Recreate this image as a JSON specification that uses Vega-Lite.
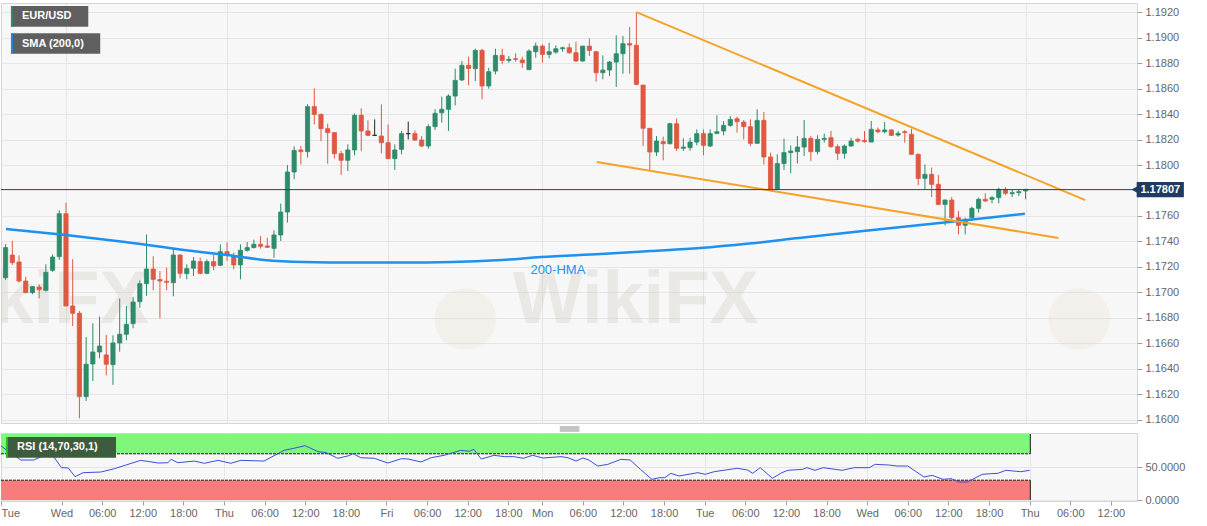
{
  "$schema": "https://vega.github.io/schema/vega-lite/v6.json",
  "padding": {"left": 0, "top": 2, "right": 0, "bottom": 0},
  "background": "#ffffff",
  "bounds": "flush",
  "spacing": 10,
  "config": {
    "font": "Liberation Sans",
    "view": {"fill": "#f7f7f7", "stroke": "#d6d6d6"},
    "axis": {"labelFont": "Liberation Sans", "labelFontSize": 11, "labelColor": "#666666", "tickColor": "#a0a0a0", "gridColor": "#e5e5e5", "domain": false, "minExtent": 0, "labelOverlap": false, "labelSeparation": 0}
  },
  "datasets": {
    "candles": [
      {"i": -9, "o": 1.17116, "h": 1.1738, "l": 1.171, "c": 1.17352},
      {"i": -8, "o": 1.17294, "h": 1.17404, "l": 1.17216, "c": 1.17234},
      {"i": -7, "o": 1.17239, "h": 1.17291, "l": 1.17077, "c": 1.1709},
      {"i": -6, "o": 1.1709, "h": 1.17122, "l": 1.16993, "c": 1.16999},
      {"i": -5, "o": 1.16999, "h": 1.17051, "l": 1.16986, "c": 1.17046},
      {"i": -4, "o": 1.17043, "h": 1.17064, "l": 1.16954, "c": 1.17022},
      {"i": -3, "o": 1.17017, "h": 1.17221, "l": 1.17007, "c": 1.17158},
      {"i": -2, "o": 1.17174, "h": 1.17299, "l": 1.17163, "c": 1.17278},
      {"i": -1, "o": 1.17281, "h": 1.17645, "l": 1.17255, "c": 1.17618},
      {"i": 0, "o": 1.17618, "h": 1.17704, "l": 1.16894, "c": 1.16894},
      {"i": 1, "o": 1.16894, "h": 1.1726, "l": 1.16737, "c": 1.16837},
      {"i": 2, "o": 1.16837, "h": 1.16855, "l": 1.16013, "c": 1.16183},
      {"i": 3, "o": 1.16183, "h": 1.16651, "l": 1.16149, "c": 1.16437},
      {"i": 4, "o": 1.16439, "h": 1.16758, "l": 1.16306, "c": 1.16533},
      {"i": 5, "o": 1.16533, "h": 1.16811, "l": 1.16484, "c": 1.1658},
      {"i": 6, "o": 1.1651, "h": 1.16667, "l": 1.1635, "c": 1.16437},
      {"i": 7, "o": 1.16434, "h": 1.16664, "l": 1.16275, "c": 1.16604},
      {"i": 8, "o": 1.16604, "h": 1.16954, "l": 1.16536, "c": 1.16672},
      {"i": 9, "o": 1.16672, "h": 1.16894, "l": 1.16625, "c": 1.1675},
      {"i": 10, "o": 1.16756, "h": 1.16965, "l": 1.16719, "c": 1.16925},
      {"i": 11, "o": 1.16928, "h": 1.17095, "l": 1.16881, "c": 1.17069},
      {"i": 12, "o": 1.17069, "h": 1.17456, "l": 1.16973, "c": 1.17184},
      {"i": 13, "o": 1.17184, "h": 1.17284, "l": 1.17017, "c": 1.17103},
      {"i": 14, "o": 1.17101, "h": 1.17169, "l": 1.16797, "c": 1.1709},
      {"i": 15, "o": 1.17088, "h": 1.17195, "l": 1.17017, "c": 1.1708},
      {"i": 16, "o": 1.17077, "h": 1.17339, "l": 1.1697, "c": 1.17294},
      {"i": 17, "o": 1.17294, "h": 1.17299, "l": 1.17111, "c": 1.1715},
      {"i": 18, "o": 1.17148, "h": 1.17221, "l": 1.17103, "c": 1.17187},
      {"i": 19, "o": 1.1719, "h": 1.17278, "l": 1.17129, "c": 1.17247},
      {"i": 20, "o": 1.17242, "h": 1.17273, "l": 1.17143, "c": 1.1715},
      {"i": 21, "o": 1.1715, "h": 1.1726, "l": 1.17143, "c": 1.17242},
      {"i": 22, "o": 1.17242, "h": 1.17294, "l": 1.17174, "c": 1.17208},
      {"i": 23, "o": 1.17213, "h": 1.17378, "l": 1.17208, "c": 1.1732},
      {"i": 24, "o": 1.1732, "h": 1.17393, "l": 1.17247, "c": 1.17294},
      {"i": 25, "o": 1.17286, "h": 1.17312, "l": 1.17182, "c": 1.17216},
      {"i": 26, "o": 1.17216, "h": 1.17378, "l": 1.17103, "c": 1.17331},
      {"i": 27, "o": 1.17331, "h": 1.17396, "l": 1.1732, "c": 1.17352},
      {"i": 28, "o": 1.17352, "h": 1.17414, "l": 1.17346, "c": 1.17378},
      {"i": 29, "o": 1.17378, "h": 1.17443, "l": 1.17344, "c": 1.17362},
      {"i": 30, "o": 1.17365, "h": 1.1743, "l": 1.17352, "c": 1.17354},
      {"i": 31, "o": 1.17346, "h": 1.17488, "l": 1.17273, "c": 1.17451},
      {"i": 32, "o": 1.17451, "h": 1.17697, "l": 1.17404, "c": 1.17631},
      {"i": 33, "o": 1.17631, "h": 1.18, "l": 1.17548, "c": 1.17945},
      {"i": 34, "o": 1.17945, "h": 1.18146, "l": 1.17888, "c": 1.18115},
      {"i": 35, "o": 1.18118, "h": 1.18149, "l": 1.18005, "c": 1.18105},
      {"i": 36, "o": 1.18105, "h": 1.18476, "l": 1.18058, "c": 1.18458},
      {"i": 37, "o": 1.18458, "h": 1.18601, "l": 1.18319, "c": 1.18397},
      {"i": 38, "o": 1.18397, "h": 1.18403, "l": 1.18188, "c": 1.18285},
      {"i": 39, "o": 1.18285, "h": 1.18324, "l": 1.1801, "c": 1.18254},
      {"i": 40, "o": 1.18254, "h": 1.18254, "l": 1.18052, "c": 1.18089},
      {"i": 41, "o": 1.18089, "h": 1.1811, "l": 1.17922, "c": 1.18037},
      {"i": 42, "o": 1.18037, "h": 1.18162, "l": 1.17953, "c": 1.18118},
      {"i": 43, "o": 1.18118, "h": 1.18405, "l": 1.18076, "c": 1.1839},
      {"i": 44, "o": 1.1839, "h": 1.18444, "l": 1.1811, "c": 1.18267},
      {"i": 45, "o": 1.18267, "h": 1.1835, "l": 1.18227, "c": 1.18233},
      {"i": 46, "o": 1.18233, "h": 1.18358, "l": 1.18227, "c": 1.18233},
      {"i": 47, "o": 1.18227, "h": 1.18476, "l": 1.18092, "c": 1.18175},
      {"i": 48, "o": 1.18175, "h": 1.18319, "l": 1.1805, "c": 1.1805},
      {"i": 49, "o": 1.1805, "h": 1.18162, "l": 1.17961, "c": 1.18118},
      {"i": 50, "o": 1.18123, "h": 1.18267, "l": 1.18084, "c": 1.18246},
      {"i": 51, "o": 1.18246, "h": 1.1834, "l": 1.18201, "c": 1.18246},
      {"i": 52, "o": 1.18246, "h": 1.18272, "l": 1.18188, "c": 1.18196},
      {"i": 53, "o": 1.18196, "h": 1.18227, "l": 1.18141, "c": 1.18149},
      {"i": 54, "o": 1.18149, "h": 1.18319, "l": 1.18128, "c": 1.18301},
      {"i": 55, "o": 1.18301, "h": 1.18437, "l": 1.18275, "c": 1.18405},
      {"i": 56, "o": 1.1841, "h": 1.18536, "l": 1.18332, "c": 1.18437},
      {"i": 57, "o": 1.18437, "h": 1.18554, "l": 1.18267, "c": 1.18541},
      {"i": 58, "o": 1.18541, "h": 1.18756, "l": 1.18468, "c": 1.18664},
      {"i": 59, "o": 1.18667, "h": 1.18816, "l": 1.18659, "c": 1.18782},
      {"i": 60, "o": 1.18782, "h": 1.1885, "l": 1.18625, "c": 1.18758},
      {"i": 61, "o": 1.18756, "h": 1.18912, "l": 1.18659, "c": 1.18899},
      {"i": 62, "o": 1.18899, "h": 1.18912, "l": 1.18515, "c": 1.1862},
      {"i": 63, "o": 1.1862, "h": 1.18763, "l": 1.18599, "c": 1.18732},
      {"i": 64, "o": 1.18737, "h": 1.18912, "l": 1.18711, "c": 1.1886},
      {"i": 65, "o": 1.1886, "h": 1.18912, "l": 1.1879, "c": 1.18821},
      {"i": 66, "o": 1.18821, "h": 1.18855, "l": 1.18803, "c": 1.18829},
      {"i": 67, "o": 1.18834, "h": 1.18876, "l": 1.1881, "c": 1.18829},
      {"i": 68, "o": 1.18824, "h": 1.1885, "l": 1.18763, "c": 1.18803},
      {"i": 69, "o": 1.18748, "h": 1.18907, "l": 1.18745, "c": 1.18894},
      {"i": 70, "o": 1.18889, "h": 1.1896, "l": 1.18842, "c": 1.18933},
      {"i": 71, "o": 1.18933, "h": 1.18946, "l": 1.18803, "c": 1.18868},
      {"i": 72, "o": 1.18868, "h": 1.1896, "l": 1.18837, "c": 1.18889},
      {"i": 73, "o": 1.18886, "h": 1.18939, "l": 1.18873, "c": 1.18912},
      {"i": 74, "o": 1.18912, "h": 1.18928, "l": 1.18889, "c": 1.1892},
      {"i": 75, "o": 1.1892, "h": 1.18954, "l": 1.18873, "c": 1.18881},
      {"i": 76, "o": 1.18881, "h": 1.18967, "l": 1.18808, "c": 1.18816},
      {"i": 77, "o": 1.18816, "h": 1.18933, "l": 1.1881, "c": 1.18933},
      {"i": 78, "o": 1.18933, "h": 1.18993, "l": 1.18855, "c": 1.18899},
      {"i": 79, "o": 1.18889, "h": 1.18894, "l": 1.18654, "c": 1.18724},
      {"i": 80, "o": 1.18724, "h": 1.1886, "l": 1.18672, "c": 1.18745},
      {"i": 81, "o": 1.18745, "h": 1.18816, "l": 1.18698, "c": 1.18808},
      {"i": 82, "o": 1.18808, "h": 1.19017, "l": 1.18612, "c": 1.18873},
      {"i": 83, "o": 1.18873, "h": 1.19012, "l": 1.18716, "c": 1.18952},
      {"i": 84, "o": 1.18952, "h": 1.19082, "l": 1.18716, "c": 1.18941},
      {"i": 85, "o": 1.18939, "h": 1.192, "l": 1.18625, "c": 1.18633},
      {"i": 86, "o": 1.18627, "h": 1.18627, "l": 1.18149, "c": 1.18288},
      {"i": 87, "o": 1.18288, "h": 1.18288, "l": 1.17958, "c": 1.18102},
      {"i": 88, "o": 1.18102, "h": 1.18227, "l": 1.18071, "c": 1.18188},
      {"i": 89, "o": 1.18183, "h": 1.18222, "l": 1.18037, "c": 1.18167},
      {"i": 90, "o": 1.18167, "h": 1.18332, "l": 1.18162, "c": 1.18324},
      {"i": 91, "o": 1.18324, "h": 1.18366, "l": 1.1811, "c": 1.18131},
      {"i": 92, "o": 1.18131, "h": 1.18209, "l": 1.1811, "c": 1.18141},
      {"i": 93, "o": 1.18136, "h": 1.18214, "l": 1.1811, "c": 1.1818},
      {"i": 94, "o": 1.1818, "h": 1.1828, "l": 1.18154, "c": 1.18246},
      {"i": 95, "o": 1.18246, "h": 1.1828, "l": 1.18076, "c": 1.18154},
      {"i": 96, "o": 1.18149, "h": 1.1828, "l": 1.18141, "c": 1.18246},
      {"i": 97, "o": 1.18248, "h": 1.1839, "l": 1.18241, "c": 1.18261},
      {"i": 98, "o": 1.18267, "h": 1.18345, "l": 1.18233, "c": 1.18311},
      {"i": 99, "o": 1.18311, "h": 1.18384, "l": 1.18301, "c": 1.18358},
      {"i": 100, "o": 1.18363, "h": 1.18379, "l": 1.18254, "c": 1.1834},
      {"i": 101, "o": 1.18337, "h": 1.18353, "l": 1.18201, "c": 1.18301},
      {"i": 102, "o": 1.18301, "h": 1.18358, "l": 1.18149, "c": 1.1817},
      {"i": 103, "o": 1.1817, "h": 1.18437, "l": 1.1817, "c": 1.1835},
      {"i": 104, "o": 1.1835, "h": 1.18416, "l": 1.18005, "c": 1.18063},
      {"i": 105, "o": 1.18063, "h": 1.18097, "l": 1.17804, "c": 1.17809},
      {"i": 106, "o": 1.17809, "h": 1.18084, "l": 1.17804, "c": 1.18011},
      {"i": 107, "o": 1.18011, "h": 1.18207, "l": 1.17961, "c": 1.18097},
      {"i": 108, "o": 1.18097, "h": 1.18154, "l": 1.17935, "c": 1.1811},
      {"i": 109, "o": 1.18105, "h": 1.18227, "l": 1.18013, "c": 1.18141},
      {"i": 110, "o": 1.18141, "h": 1.18353, "l": 1.18071, "c": 1.18209},
      {"i": 111, "o": 1.18209, "h": 1.18227, "l": 1.18031, "c": 1.18105},
      {"i": 112, "o": 1.18105, "h": 1.18233, "l": 1.18084, "c": 1.18201},
      {"i": 113, "o": 1.18201, "h": 1.18246, "l": 1.18175, "c": 1.18209},
      {"i": 114, "o": 1.18214, "h": 1.18267, "l": 1.18136, "c": 1.18144},
      {"i": 115, "o": 1.18144, "h": 1.18162, "l": 1.18039, "c": 1.18092},
      {"i": 116, "o": 1.18092, "h": 1.18162, "l": 1.1805, "c": 1.18149},
      {"i": 117, "o": 1.18149, "h": 1.18214, "l": 1.18144, "c": 1.18188},
      {"i": 118, "o": 1.18201, "h": 1.18214, "l": 1.18175, "c": 1.18188},
      {"i": 119, "o": 1.18193, "h": 1.18267, "l": 1.18175, "c": 1.18183},
      {"i": 120, "o": 1.1818, "h": 1.18345, "l": 1.1818, "c": 1.1828},
      {"i": 121, "o": 1.18275, "h": 1.18293, "l": 1.18248, "c": 1.18261},
      {"i": 122, "o": 1.18261, "h": 1.18337, "l": 1.18248, "c": 1.18275},
      {"i": 123, "o": 1.18275, "h": 1.1828, "l": 1.18227, "c": 1.18233},
      {"i": 124, "o": 1.18235, "h": 1.18267, "l": 1.18222, "c": 1.18248},
      {"i": 125, "o": 1.18261, "h": 1.18275, "l": 1.18175, "c": 1.18254},
      {"i": 126, "o": 1.18241, "h": 1.18285, "l": 1.18084, "c": 1.18084},
      {"i": 127, "o": 1.18084, "h": 1.18089, "l": 1.17841, "c": 1.17895},
      {"i": 128, "o": 1.17895, "h": 1.18005, "l": 1.17809, "c": 1.17927},
      {"i": 129, "o": 1.17927, "h": 1.17979, "l": 1.17749, "c": 1.17848},
      {"i": 130, "o": 1.17848, "h": 1.17922, "l": 1.17684, "c": 1.17691},
      {"i": 131, "o": 1.17691, "h": 1.17731, "l": 1.17527, "c": 1.17725},
      {"i": 132, "o": 1.17725, "h": 1.17749, "l": 1.17569, "c": 1.17587},
      {"i": 133, "o": 1.17587, "h": 1.17639, "l": 1.17456, "c": 1.17527},
      {"i": 134, "o": 1.17527, "h": 1.17587, "l": 1.17456, "c": 1.17574},
      {"i": 135, "o": 1.17587, "h": 1.17673, "l": 1.17561, "c": 1.1766},
      {"i": 136, "o": 1.1766, "h": 1.17744, "l": 1.17626, "c": 1.17731},
      {"i": 137, "o": 1.17731, "h": 1.17778, "l": 1.1771, "c": 1.17718},
      {"i": 138, "o": 1.17731, "h": 1.17757, "l": 1.17699, "c": 1.17744},
      {"i": 139, "o": 1.17744, "h": 1.17822, "l": 1.17699, "c": 1.17809},
      {"i": 140, "o": 1.17809, "h": 1.17827, "l": 1.17765, "c": 1.17778},
      {"i": 141, "o": 1.17775, "h": 1.17804, "l": 1.17749, "c": 1.17783},
      {"i": 142, "o": 1.17783, "h": 1.17804, "l": 1.17757, "c": 1.17791},
      {"i": 143, "o": 1.17796, "h": 1.17814, "l": 1.17731, "c": 1.17807}
    ],
    "hma": [
      {"i": -8.94, "p": 1.17498}, {"i": 0, "p": 1.17451}, {"i": 8.8, "p": 1.17396},
      {"i": 17.6, "p": 1.17333}, {"i": 24, "p": 1.17294}, {"i": 29.5, "p": 1.17255},
      {"i": 35.4, "p": 1.17239}, {"i": 42.8, "p": 1.17235}, {"i": 50.1, "p": 1.17235},
      {"i": 57.5, "p": 1.17239}, {"i": 64.9, "p": 1.17255}, {"i": 70.8, "p": 1.17278},
      {"i": 79.7, "p": 1.17302}, {"i": 87.1, "p": 1.17325}, {"i": 94.5, "p": 1.17349},
      {"i": 101.8, "p": 1.17384}, {"i": 109.2, "p": 1.17427}, {"i": 118.8, "p": 1.17482},
      {"i": 130.9, "p": 1.17549}, {"i": 142.9, "p": 1.17618}
    ],
    "trend": [
      {"s": "upper", "i": 85, "p": 1.192},
      {"s": "upper", "i": 151.9, "p": 1.17725},
      {"s": "lower", "i": 79.1, "p": 1.18024},
      {"s": "lower", "i": 147.9, "p": 1.17427}
    ],
    "rsi": [
      {"i": -8.94, "r": 82}, {"i": -7.9, "r": 74}, {"i": -6, "r": 60.6}, {"i": -4.1, "r": 60.6},
      {"i": -1.6, "r": 71.7}, {"i": 0, "r": 49}, {"i": 1, "r": 48.5}, {"i": 2, "r": 35.3},
      {"i": 3.2, "r": 41.4}, {"i": 5.8, "r": 42.4}, {"i": 7.8, "r": 47.4}, {"i": 11.7, "r": 60.1},
      {"i": 14.3, "r": 56}, {"i": 15.7, "r": 56.5}, {"i": 16.2, "r": 61.6}, {"i": 17.2, "r": 56.5},
      {"i": 19.6, "r": 59}, {"i": 21.1, "r": 55.6}, {"i": 23.1, "r": 60.1}, {"i": 25, "r": 55.6},
      {"i": 26.5, "r": 60.1}, {"i": 29.9, "r": 59}, {"i": 32.9, "r": 75.3}, {"i": 34.3, "r": 78.3},
      {"i": 36, "r": 82.3}, {"i": 37.9, "r": 73.2}, {"i": 39.1, "r": 71.7}, {"i": 40.8, "r": 63.2},
      {"i": 42.3, "r": 66.7}, {"i": 43.1, "r": 70.2}, {"i": 44.2, "r": 64.1}, {"i": 46.2, "r": 63.2},
      {"i": 48.2, "r": 56}, {"i": 50.2, "r": 62.6}, {"i": 51.2, "r": 62.1}, {"i": 53.1, "r": 57.6},
      {"i": 54.6, "r": 64.1}, {"i": 56.5, "r": 67.7}, {"i": 57.8, "r": 71.7}, {"i": 59, "r": 75.3},
      {"i": 60.2, "r": 73.8}, {"i": 60.9, "r": 76.8}, {"i": 62, "r": 62.1}, {"i": 63.9, "r": 67.7},
      {"i": 65.4, "r": 65.7}, {"i": 66.8, "r": 65.7}, {"i": 68.2, "r": 63.2}, {"i": 69.6, "r": 67.7},
      {"i": 71.1, "r": 63.6}, {"i": 73.8, "r": 65.7}, {"i": 74.8, "r": 64.1}, {"i": 76, "r": 59},
      {"i": 77, "r": 63.6}, {"i": 77.9, "r": 60.6}, {"i": 79.2, "r": 51.5}, {"i": 80.7, "r": 54},
      {"i": 82.6, "r": 61.6}, {"i": 84, "r": 60.6}, {"i": 85.5, "r": 46.5}, {"i": 87.2, "r": 31.3},
      {"i": 88.3, "r": 33.8}, {"i": 89.1, "r": 33.8}, {"i": 90, "r": 40.4}, {"i": 91.2, "r": 36.4},
      {"i": 94, "r": 41.4}, {"i": 95.1, "r": 38.9}, {"i": 96.4, "r": 42.9}, {"i": 99.8, "r": 48},
      {"i": 101.3, "r": 45.5}, {"i": 102.1, "r": 40.4}, {"i": 103.2, "r": 49}, {"i": 105, "r": 32.9},
      {"i": 106.4, "r": 41.4}, {"i": 107.3, "r": 45}, {"i": 109.5, "r": 46.5}, {"i": 110.1, "r": 49},
      {"i": 111.3, "r": 45}, {"i": 112.5, "r": 49}, {"i": 115.3, "r": 45}, {"i": 117.1, "r": 49},
      {"i": 119.3, "r": 49}, {"i": 120.2, "r": 54}, {"i": 122.2, "r": 53}, {"i": 123.4, "r": 51.5},
      {"i": 125, "r": 51.5}, {"i": 127.4, "r": 34.8}, {"i": 128.6, "r": 37.4}, {"i": 130.2, "r": 31.3},
      {"i": 131.4, "r": 32.3}, {"i": 132.6, "r": 27.3}, {"i": 133.8, "r": 27.3}, {"i": 136, "r": 38.9},
      {"i": 137.2, "r": 39.8}, {"i": 138.3, "r": 40.4}, {"i": 139.5, "r": 45}, {"i": 141.7, "r": 42.9},
      {"i": 143, "r": 45}
    ]
  },
  "vconcat": [
    {
      "width": 1136,
      "height": 420,
      "layer": [
        {
          "data": {"values": [{}]},
          "mark": {"type": "text", "text": "WikiFX", "font": "Liberation Sans", "fontSize": 74, "fontWeight": "bold", "color": "#cbc2b8", "opacity": 0.28, "align": "center", "baseline": "middle", "clip": true},
          "encoding": {
            "x": {"datum": 84.9, "type": "quantitative", "scale": {"domain": [-8.94, 158.86], "nice": false, "zero": false}},
            "y": {"datum": 1.16933, "type": "quantitative", "scale": {"domain": [1.15976, 1.19271], "nice": false, "zero": false}}
          }
        },
        {
          "data": {"values": [{}]},
          "mark": {"type": "text", "text": "WikiFX", "font": "Liberation Sans", "fontSize": 74, "fontWeight": "bold", "color": "#cbc2b8", "opacity": 0.28, "align": "center", "baseline": "middle", "clip": true},
          "encoding": {
            "x": {"datum": -6, "type": "quantitative"},
            "y": {"datum": 1.16933, "type": "quantitative"}
          }
        },
        {
          "data": {"values": [{}]},
          "mark": {"type": "point", "shape": "circle", "filled": true, "size": 3800, "color": "#e6dccb", "opacity": 0.25, "clip": true},
          "encoding": {
            "x": {"datum": 59.5, "type": "quantitative"},
            "y": {"datum": 1.16792, "type": "quantitative"}
          }
        },
        {
          "data": {"values": [{}]},
          "mark": {"type": "point", "shape": "circle", "filled": true, "size": 3800, "color": "#e6dccb", "opacity": 0.25, "clip": true},
          "encoding": {
            "x": {"datum": 151, "type": "quantitative"},
            "y": {"datum": 1.16792, "type": "quantitative"}
          }
        },
        {
          "data": {"name": "candles"},
          "mark": {"type": "rule", "strokeWidth": 1, "clip": true},
          "encoding": {
            "x": {
              "field": "i", "type": "quantitative",
              "scale": {"domain": [-8.94, 158.86], "nice": false, "zero": false},
              "axis": {"values": [0, 24, 48, 71, 95, 119, 143], "tickCount": 40, "labels": false, "ticks": false, "domain": false, "grid": true, "title": null, "minExtent": 0, "maxExtent": 0}
            },
            "y": {
              "field": "l", "type": "quantitative",
              "scale": {"domain": [1.15976, 1.19271], "nice": false, "zero": false},
              "axis": {"orient": "right", "values": [1.16, 1.162, 1.164, 1.166, 1.168, 1.17, 1.172, 1.174, 1.176, 1.18, 1.182, 1.184, 1.186, 1.188, 1.19, 1.192], "tickCount": 40, "format": ".4f", "grid": true, "tickSize": 5, "labelPadding": 3, "labelOverlap": false, "domain": false, "title": null}
            },
            "y2": {"field": "h"},
            "color": {"condition": [{"test": "datum.c > datum.o", "value": "#2e8b6b"}, {"test": "datum.c < datum.o", "value": "#de5842"}], "value": "#222222"}
          }
        },
        {
          "data": {"name": "candles"},
          "mark": {"type": "bar", "width": 4.2, "strokeWidth": 0.8, "clip": true},
          "encoding": {
            "x": {"field": "i", "type": "quantitative", "title": null},
            "y": {"field": "o", "type": "quantitative", "title": null},
            "y2": {"field": "c"},
            "color": {"condition": [{"test": "datum.c > datum.o", "value": "#2e8b6b"}, {"test": "datum.c < datum.o", "value": "#de5842"}], "value": "#222222"},
            "stroke": {"condition": [{"test": "datum.c > datum.o", "value": "#2e8b6b"}, {"test": "datum.c < datum.o", "value": "#de5842"}], "value": "#222222"}
          }
        },
        {
          "data": {"name": "hma"},
          "mark": {"type": "line", "color": "#1e90ee", "strokeWidth": 2.5, "interpolate": "monotone", "clip": true},
          "encoding": {
            "x": {"field": "i", "type": "quantitative", "title": null},
            "y": {"field": "p", "type": "quantitative", "title": null}
          }
        },
        {
          "data": {"name": "trend"},
          "mark": {"type": "line", "color": "#f5a228", "strokeWidth": 2, "clip": true},
          "encoding": {
            "x": {"field": "i", "type": "quantitative", "title": null},
            "y": {"field": "p", "type": "quantitative", "title": null},
            "detail": {"field": "s"}
          }
        },
        {
          "data": {"values": [{}]},
          "mark": {"type": "rule", "color": "#26416b", "strokeWidth": 1},
          "encoding": {
            "y": {"datum": 1.17807, "type": "quantitative"}
          }
        },
        {
          "data": {"values": [{}]},
          "mark": {"type": "text", "text": "200-HMA", "font": "Liberation Sans", "fontSize": 13, "color": "#1e90ee", "align": "center", "baseline": "middle"},
          "encoding": {
            "x": {"datum": 73.3, "type": "quantitative"},
            "y": {"datum": 1.17176, "type": "quantitative"}
          }
        },
        {
          "data": {"values": [{}]},
          "mark": {"type": "rect", "color": "#5f5f5f"},
          "encoding": {
            "x": {"datum": -8.2, "type": "quantitative"},
            "x2": {"datum": 3.32},
            "y": {"datum": 1.19247, "type": "quantitative"},
            "y2": {"datum": 1.19085}
          }
        },
        {
          "data": {"values": [{}]},
          "mark": {"type": "rect", "color": "#2e8b6b"},
          "encoding": {
            "x": {"datum": -8.2, "type": "quantitative"},
            "x2": {"datum": -7.92},
            "y": {"datum": 1.19247, "type": "quantitative"},
            "y2": {"datum": 1.19085}
          }
        },
        {
          "data": {"values": [{}]},
          "mark": {"type": "text", "text": "EUR/USD", "font": "Liberation Sans", "fontSize": 11, "fontWeight": "bold", "color": "#ffffff", "align": "left", "baseline": "middle"},
          "encoding": {
            "x": {"datum": -6.57, "type": "quantitative"},
            "y": {"datum": 1.19166, "type": "quantitative"}
          }
        },
        {
          "data": {"values": [{}]},
          "mark": {"type": "rect", "color": "#5f5f5f"},
          "encoding": {
            "x": {"datum": -8.2, "type": "quantitative"},
            "x2": {"datum": 5.1},
            "y": {"datum": 1.19033, "type": "quantitative"},
            "y2": {"datum": 1.18873}
          }
        },
        {
          "data": {"values": [{}]},
          "mark": {"type": "rect", "color": "#1e88e5"},
          "encoding": {
            "x": {"datum": -8.2, "type": "quantitative"},
            "x2": {"datum": -7.92},
            "y": {"datum": 1.19033, "type": "quantitative"},
            "y2": {"datum": 1.18873}
          }
        },
        {
          "data": {"values": [{}]},
          "mark": {"type": "text", "text": "SMA (200,0)", "font": "Liberation Sans", "fontSize": 11, "fontWeight": "bold", "color": "#ffffff", "align": "left", "baseline": "middle"},
          "encoding": {
            "x": {"datum": -6.57, "type": "quantitative"},
            "y": {"datum": 1.18953, "type": "quantitative"}
          }
        },
        {
          "data": {"values": [{}]},
          "mark": {"type": "point", "shape": "triangle-left", "filled": true, "size": 40, "color": "#1f3b63", "opacity": 1, "clip": false},
          "encoding": {
            "x": {"datum": 159.2, "type": "quantitative"},
            "y": {"datum": 1.17807, "type": "quantitative"}
          }
        },
        {
          "data": {"values": [{}]},
          "mark": {"type": "rect", "color": "#1f3b63", "clip": false},
          "encoding": {
            "x": {"datum": 159.56, "type": "quantitative"},
            "x2": {"datum": 166.59},
            "y": {"datum": 1.17866, "type": "quantitative"},
            "y2": {"datum": 1.17748}
          }
        },
        {
          "data": {"values": [{}]},
          "mark": {"type": "text", "text": "1.17807", "font": "Liberation Sans", "fontSize": 11, "fontWeight": "bold", "color": "#ffffff", "align": "center", "baseline": "middle", "clip": false},
          "encoding": {
            "x": {"datum": 163.07, "type": "quantitative"},
            "y": {"datum": 1.17807, "type": "quantitative"}
          }
        }
      ]
    },
    {
      "width": 1136,
      "height": 68,
      "layer": [
        {
          "data": {"values": [{}]},
          "mark": {"type": "rect", "color": "#80f77c"},
          "encoding": {
            "x": {"datum": -8.94, "type": "quantitative", "scale": {"domain": [-8.94, 158.86], "nice": false, "zero": false}},
            "x2": {"datum": 143.1},
            "y": {"datum": 70, "type": "quantitative", "scale": {"domain": [-1.5, 101.5], "nice": false, "zero": false}},
            "y2": {"datum": 100}
          }
        },
        {
          "data": {"values": [{}]},
          "mark": {"type": "rect", "color": "#f77c7c"},
          "encoding": {
            "x": {"datum": -8.94, "type": "quantitative"},
            "x2": {"datum": 143.1},
            "y": {"datum": 0, "type": "quantitative"},
            "y2": {"datum": 30}
          }
        },
        {
          "data": {"values": [{}]},
          "mark": {"type": "rule", "color": "#1a1a1a", "strokeWidth": 1, "strokeDash": [3, 1]},
          "encoding": {
            "x": {"datum": -8.94, "type": "quantitative"},
            "x2": {"datum": 143.1},
            "y": {"datum": 70, "type": "quantitative"}
          }
        },
        {
          "data": {"values": [{}]},
          "mark": {"type": "rule", "color": "#1a1a1a", "strokeWidth": 1, "strokeDash": [3, 1]},
          "encoding": {
            "x": {"datum": -8.94, "type": "quantitative"},
            "x2": {"datum": 143.1},
            "y": {"datum": 30, "type": "quantitative"}
          }
        },
        {
          "data": {"values": [{}]},
          "mark": {"type": "rule", "color": "#1a1a1a", "strokeWidth": 1},
          "encoding": {
            "x": {"datum": 143.1, "type": "quantitative"},
            "y": {"datum": 70, "type": "quantitative"},
            "y2": {"datum": 100}
          }
        },
        {
          "data": {"values": [{}]},
          "mark": {"type": "rule", "color": "#1a1a1a", "strokeWidth": 1},
          "encoding": {
            "x": {"datum": 143.1, "type": "quantitative"},
            "y": {"datum": 0, "type": "quantitative"},
            "y2": {"datum": 30}
          }
        },
        {
          "data": {"values": [{}]},
          "mark": {"type": "rule", "color": "#8a8a8a", "strokeWidth": 1},
          "encoding": {
            "x": {"datum": 73.6, "type": "quantitative"},
            "x2": {"datum": 76.5},
            "y": {"datum": 110.6, "type": "quantitative"}
          }
        },
        {
          "data": {"values": [{}]},
          "mark": {"type": "rule", "color": "#8a8a8a", "strokeWidth": 1},
          "encoding": {
            "x": {"datum": 73.6, "type": "quantitative"},
            "x2": {"datum": 76.5},
            "y": {"datum": 107.6, "type": "quantitative"}
          }
        },
        {
          "data": {"values": [{}]},
          "mark": {"type": "rule", "color": "#8a8a8a", "strokeWidth": 1},
          "encoding": {
            "x": {"datum": 73.6, "type": "quantitative"},
            "x2": {"datum": 76.5},
            "y": {"datum": 104.6, "type": "quantitative"}
          }
        },
        {
          "data": {"name": "rsi"},
          "mark": {"type": "line", "color": "#3d4fd6", "strokeWidth": 1, "clip": true},
          "encoding": {
            "x": {
              "field": "i", "type": "quantitative",
              "scale": {"domain": [-8.94, 158.86], "nice": false, "zero": false},
              "axis": {
                "values": [-8.94, 0, 6, 12, 18, 24, 30, 36, 42, 48, 54, 60, 66, 71, 77, 83, 89, 95, 101, 107, 113, 119, 125, 131, 137, 143, 149, 155],
                "tickCount": 60,
                "labelExpr": "['Tue','Wed','06:00','12:00','18:00','Thu','06:00','12:00','18:00','Fri','06:00','12:00','18:00','Mon','06:00','12:00','18:00','Tue','06:00','12:00','18:00','Wed','06:00','12:00','18:00','Thu','06:00','12:00'][indexof([-8.94,0,6,12,18,24,30,36,42,48,54,60,66,71,77,83,89,95,101,107,113,119,125,131,137,143,149,155], datum.value)]",
                "labelFlush": true,
                "labelOverlap": false,
                "labelPadding": 2,
                "tickSize": 4,
                "grid": true,
                "gridOpacity": {"condition": {"test": "indexof([0,24,48,71,95,119,143], datum.value) >= 0", "value": 1}, "value": 0},
                "domain": false,
                "title": null
              }
            },
            "y": {
              "field": "r", "type": "quantitative",
              "scale": {"domain": [-1.5, 101.5], "nice": false, "zero": false},
              "axis": {"orient": "right", "values": [0, 50], "format": ".4f", "grid": true, "tickSize": 5, "labelPadding": 3, "domain": false, "title": null}
            }
          }
        },
        {
          "data": {"values": [{}]},
          "mark": {"type": "rect", "color": "#3d5b3d"},
          "encoding": {
            "x": {"datum": -8.2, "type": "quantitative"},
            "x2": {"datum": 8.05},
            "y": {"datum": 95.5, "type": "quantitative"},
            "y2": {"datum": 64.1}
          }
        },
        {
          "data": {"values": [{}]},
          "mark": {"type": "rect", "color": "#22c322"},
          "encoding": {
            "x": {"datum": -8.2, "type": "quantitative"},
            "x2": {"datum": -7.92},
            "y": {"datum": 95.5, "type": "quantitative"},
            "y2": {"datum": 64.1}
          }
        },
        {
          "data": {"values": [{}]},
          "mark": {"type": "text", "text": "RSI (14,70,30,1)", "font": "Liberation Sans", "fontSize": 11, "fontWeight": "bold", "color": "#ffffff", "align": "left", "baseline": "middle"},
          "encoding": {
            "x": {"datum": -6.57, "type": "quantitative"},
            "y": {"datum": 79.8, "type": "quantitative"}
          }
        }
      ]
    }
  ]
}
